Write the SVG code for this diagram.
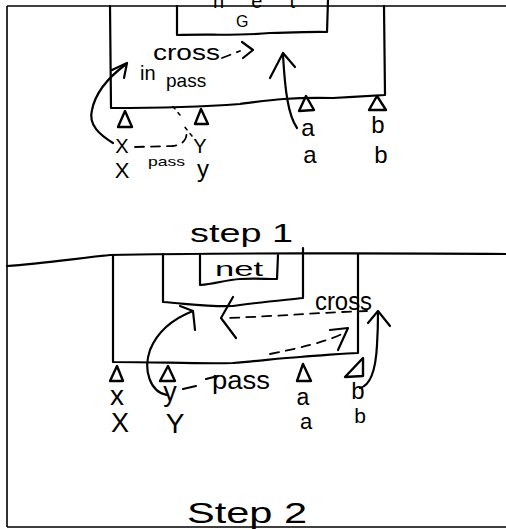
<svg xmlns="http://www.w3.org/2000/svg" width="506" height="529" viewBox="0 0 506 529">
<style>
.ln{fill:none;stroke:#000;stroke-width:2.2;stroke-linecap:round;stroke-linejoin:round}
.fr{fill:none;stroke:#000;stroke-width:1.6}
.dash{fill:none;stroke:#000;stroke-width:1.8;stroke-dasharray:9 7;stroke-linecap:round}
.dot{fill:none;stroke:#000;stroke-width:1.6;stroke-dasharray:3 5;stroke-linecap:round}
.tri{fill:none;stroke:#000;stroke-width:2.4;stroke-linejoin:round}
.t{font-family:"Liberation Sans",Arial,sans-serif;fill:#000}
.c{text-anchor:middle}
</style>
<rect width="506" height="529" fill="#fff"/>
<g id="frame">
<path class="fr" d="M7,6 H506 M7,6 V527 M7,527 H506"/>
<path class="ln" d="M7,266 C40,264 80,258 110,255 C200,253 400,253 506,254"/>
</g>
<g id="step1-box">
<path class="ln" d="M110,6 L111,108 C160,108 200,107 240,104 C270,100 290,97 333,98 C350,97 370,96 385,95 L384,6"/>
</g>
<g id="step1-net">
<path class="ln" d="M177,6 L177,35 C210,34 240,36 270,33 C300,33 315,31 327,32 L328,0"/>
<text class="t" x="213" y="8" font-size="20" textLength="82" lengthAdjust="spacing">net</text>
<text class="t" x="236" y="27" font-size="16">G</text>
</g>
<g id="step1-port-x"><path class="tri" d="M118,127 L125,111 L132,127 Z" fill="#000"/>
<text class="t c" x="122" y="153" font-size="20">X</text>
<text class="t c" x="122" y="178" font-size="22">X</text></g>
<g id="step1-port-y"><path class="tri" d="M195,124 L201,109 L208,124 Z"/>
<text class="t c" x="200" y="153" font-size="20">Y</text>
<text class="t c" x="203" y="177" font-size="24">y</text></g>
<g id="step1-port-a"><path class="tri" d="M299,111 L306,96 L314,110 Z"/>
<text class="t c" x="308" y="136" font-size="24">a</text>
<text class="t c" x="310" y="163" font-size="24">a</text></g>
<g id="step1-port-b"><path class="tri" d="M369,110 L377,96 L386,110 Z"/>
<text class="t c" x="378" y="133" font-size="24">b</text>
<text class="t c" x="381" y="163" font-size="24">b</text></g>
<text id="step1-label" class="t" x="190" y="242" font-size="26" textLength="103" lengthAdjust="spacingAndGlyphs">step 1</text>

<g id="step2-box">
<path class="ln" d="M113,255 L113,362 C160,362 200,364 233,363 C260,361 280,358 300,357 C330,355 345,353 358,353 L358,254"/>
</g>
<g id="step2-mid">
<path class="ln" d="M163,254 L163,302 C190,304 210,307 233,306 C260,302 285,300 303,298 L303,248"/>
</g>
<g id="step2-net">
<path class="ln" d="M200,255 L200,285 C215,284 225,280 240,279 C255,278 265,279 277,279 L278,255"/>
<text class="t" x="215" y="276" font-size="21" textLength="48" lengthAdjust="spacingAndGlyphs">net</text>
</g>
<g id="step2-port-x"><path class="tri" d="M110,381 L117,366 L123,381 Z"/>
<text class="t c" x="117" y="405" font-size="28">x</text>
<text class="t c" x="120" y="432" font-size="27">X</text></g>
<g id="step2-port-y"><path class="tri" d="M160,381 L168,366 L175,381 Z"/>
<text class="t c" x="170" y="401" font-size="27">y</text>
<text class="t c" x="175" y="433" font-size="28">Y</text></g>
<g id="step2-port-a"><path class="tri" d="M297,381 L303,364 L311,381 Z"/>
<text class="t c" x="303" y="405" font-size="23">a</text>
<text class="t c" x="306" y="429" font-size="22">a</text></g>
<g id="step2-port-b"><path class="tri" d="M345,377 L363,358 L363,376 Z"/>
<text class="t c" x="358" y="399" font-size="24">b</text>
<text class="t c" x="360" y="423" font-size="21">b</text></g>
<text id="step2-label" class="t" x="187" y="523" font-size="29" textLength="120" lengthAdjust="spacingAndGlyphs">Step 2</text>

<g id="connectors">
<path class="dash" d="M222,58 L240,51" stroke-dasharray="6 5"/>
<path class="ln" d="M242,42 L253,50 L243,58"/>
<path class="ln" d="M113,143 C100,135 88,125 92,110 C95,95 105,80 125,65"/>
<path class="ln" d="M112,70 L127,63 L124,78"/>
<path class="ln" d="M297,128 C288,115 285,90 283,55"/>
<path class="ln" d="M270,78 L283,53 L295,67"/>
<path class="dash" d="M135,147 L172,146 C184,145 188,138 186,130" stroke-dasharray="5 5"/>
<path class="dot" d="M192,136 L184,126 M180,115 L170,103"/>
<path class="dash" d="M367,311 C330,312 280,316 228,318" stroke-dasharray="11 9"/>
<path class="ln" d="M233,297 L221,318 L236,338"/>
<path class="ln" d="M167,395 C150,392 143,370 150,350 C158,330 175,318 193,311"/>
<path class="ln" d="M180,306 L193,311 L195,330"/>
<path class="ln" d="M183,389 L196,386 M206,379 L218,376"/>
<path class="dash" d="M270,354 C300,348 325,342 342,334" stroke-dasharray="12 8"/>
<path class="ln" d="M330,330 L348,328 L338,350"/>
<path class="ln" d="M360,388 C372,385 376,365 377,345 C378,330 378,320 378,312"/>
<path class="ln" d="M368,323 L378,311 L390,326"/>
</g>
<text class="t" x="153" y="60" font-size="22" textLength="67" lengthAdjust="spacingAndGlyphs">cross</text>
<text class="t" x="140" y="80" font-size="20">in<tspan x="166" y="87" font-size="19">pass</tspan></text>
<text class="t" x="148" y="166" font-size="13" textLength="37" lengthAdjust="spacingAndGlyphs">pass</text>
<text class="t" x="315" y="310" font-size="26" textLength="57" lengthAdjust="spacingAndGlyphs">cross</text>
<text class="t" x="212" y="389" font-size="26" textLength="58" lengthAdjust="spacingAndGlyphs">pass</text>
</svg>
